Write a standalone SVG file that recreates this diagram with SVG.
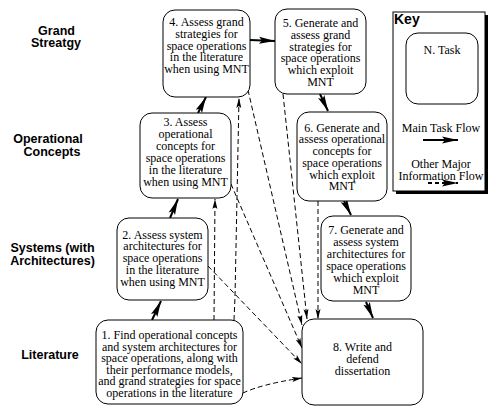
<svg xmlns="http://www.w3.org/2000/svg" width="490" height="413" viewBox="0 0 490 413">
<defs>
<style>
.box{fill:#fff;stroke:#000;stroke-width:1}
.t{font-family:"Liberation Serif","Times New Roman",serif;font-size:12px;fill:#000;text-anchor:middle}
.lab{font-family:"Liberation Sans",Arial,sans-serif;font-size:12.5px;font-weight:bold;fill:#000;text-anchor:middle}
.main{fill:none;stroke:#000;stroke-width:2;marker-end:url(#ah)}
.info{fill:none;stroke:#000;stroke-width:1;stroke-dasharray:5,3;marker-end:url(#dh)}
</style>
<marker id="ah" markerUnits="userSpaceOnUse" markerWidth="17" markerHeight="8" refX="16" refY="3.5" orient="auto" overflow="visible">
<path d="M0,0 L16,3.5 L0,7 L3,3.5 z" fill="#000"/>
</marker>
<marker id="dh" markerUnits="userSpaceOnUse" markerWidth="11" markerHeight="6" refX="10" refY="2.5" orient="auto" overflow="visible">
<path d="M0,0 L10,2.5 L0,5 L2,2.5 z" fill="#000"/>
</marker>
</defs>
<rect width="490" height="413" fill="#fff"/>

<g id="row-labels">
<text class="lab" x="56.5" y="35">Grand</text>
<text class="lab" x="56" y="47">Streatgy</text>
<text class="lab" x="48" y="143">Operational</text>
<text class="lab" x="52" y="156">Concepts</text>
<text class="lab" x="52.5" y="252">Systems (with</text>
<text class="lab" x="52.5" y="265">Architectures)</text>
<text class="lab" x="50" y="359">Literature</text>
</g>

<g id="connectors">
<path class="main" d="M152,320 L161,301"/>
<path class="main" d="M170,218 L178,199"/>
<path class="main" d="M198,113 L206,97"/>
<path class="main" d="M250,40 L275,41"/>
<path class="main" d="M320,94 L328,111"/>
<path class="main" d="M344,201 L351,215"/>
<path class="main" d="M366,302 L373,318"/>
<path class="info" d="M214,320 L215,199"/>
<path class="info" d="M234,320 L235,297 L239,98"/>
<path class="info" d="M248,90 L302,325"/>
<path class="info" d="M283,94 L307,319"/>
<path class="info" d="M318,201 L318,319"/>
<path class="info" d="M231,184 L302,348"/>
<path class="info" d="M208,266 L302,364"/>
<path class="info" d="M243,393 Q262,384 302,378"/>
</g>

<g id="n4">
<rect class="box" x="163" y="10" width="87" height="87" rx="12"/>
<text class="t" x="206.5" y="26">4. Assess grand</text>
<text class="t" x="206.5" y="37.8">strategies for</text>
<text class="t" x="206.5" y="49.6">space operations</text>
<text class="t" x="206.5" y="61.4">in the literature</text>
<text class="t" x="206.5" y="73.2">when using MNT</text>
</g>

<g id="n3">
<rect class="box" x="140" y="113" width="91" height="85" rx="12"/>
<text class="t" x="185.5" y="126">3. Assess</text>
<text class="t" x="185.5" y="138">operational</text>
<text class="t" x="185.5" y="150">concepts for</text>
<text class="t" x="185.5" y="162">space operations</text>
<text class="t" x="185.5" y="174">in the literature</text>
<text class="t" x="185.5" y="186">when using MNT</text>
</g>

<g id="n2">
<rect class="box" x="117" y="218" width="91" height="82" rx="12"/>
<text class="t" x="162.5" y="238.5">2. Assess system</text>
<text class="t" x="162.5" y="250.4">architectures for</text>
<text class="t" x="162.5" y="262.3">space operations</text>
<text class="t" x="162.5" y="274.2">in the literature</text>
<text class="t" x="162.5" y="286.1">when using MNT</text>
</g>

<g id="n1">
<rect class="box" x="96" y="320" width="147" height="84" rx="12"/>
<text class="t" x="169.5" y="339.3">1. Find operational concepts</text>
<text class="t" x="169.5" y="350.8">and system architectures for</text>
<text class="t" x="169.5" y="362.3">space operations, along with</text>
<text class="t" x="169.5" y="373.8">their performance models,</text>
<text class="t" x="169.5" y="385.3">and grand strategies for space</text>
<text class="t" x="169.5" y="396.8">operations in the literature</text>
</g>

<g id="n5">
<rect class="box" x="275" y="9" width="91" height="85" rx="12"/>
<text class="t" x="320.5" y="27.3">5. Generate and</text>
<text class="t" x="320.5" y="39">assess grand</text>
<text class="t" x="320.5" y="50.7">strategies for</text>
<text class="t" x="320.5" y="62.4">space operations</text>
<text class="t" x="320.5" y="74.1">which exploit</text>
<text class="t" x="320.5" y="85.8">MNT</text>
</g>

<g id="n6">
<rect class="box" x="297" y="112" width="90" height="89" rx="12"/>
<text class="t" x="342" y="131.7">6. Generate and</text>
<text class="t" x="342" y="143.4">assess operational</text>
<text class="t" x="342" y="155.1">concepts for</text>
<text class="t" x="342" y="166.8">space operations</text>
<text class="t" x="342" y="178.5">which exploit</text>
<text class="t" x="342" y="190.2">MNT</text>
</g>

<g id="n7">
<rect class="box" x="321" y="216" width="90" height="85" rx="12"/>
<text class="t" x="366" y="234">7. Generate and</text>
<text class="t" x="366" y="246">assess system</text>
<text class="t" x="366" y="258">architectures for</text>
<text class="t" x="366" y="270">space operations</text>
<text class="t" x="366" y="282">which exploit</text>
<text class="t" x="366" y="294">MNT</text>
</g>

<g id="n8">
<rect class="box" x="302" y="319" width="121" height="86" rx="12"/>
<text class="t" x="362.5" y="350.7">8. Write and</text>
<text class="t" x="362.5" y="362.8">defend</text>
<text class="t" x="362.5" y="374.9">dissertation</text>
</g>

<g id="key">
<rect x="396" y="15" width="92" height="179" fill="#000"/>
<rect x="393" y="12" width="92" height="179" fill="#fff" stroke="#000" stroke-width="1"/>
<text x="394" y="24" font-family="Liberation Sans, Arial, sans-serif" font-size="14" font-weight="bold">Key</text>
<rect class="box" x="406" y="33" width="72" height="71" rx="12"/>
<text class="t" x="442" y="54">N. Task</text>
<text class="t" x="441" y="131.7">Main Task Flow</text>
<path class="main" d="M423,140 L458,140"/>
<text class="t" x="441" y="168.3">Other Major</text>
<text class="t" x="441" y="180">Information Flow</text>
<path d="M428,183 L458,183" fill="none" stroke="#000" stroke-width="2" stroke-dasharray="4,3" marker-end="url(#ah)"/>
</g>
</svg>
